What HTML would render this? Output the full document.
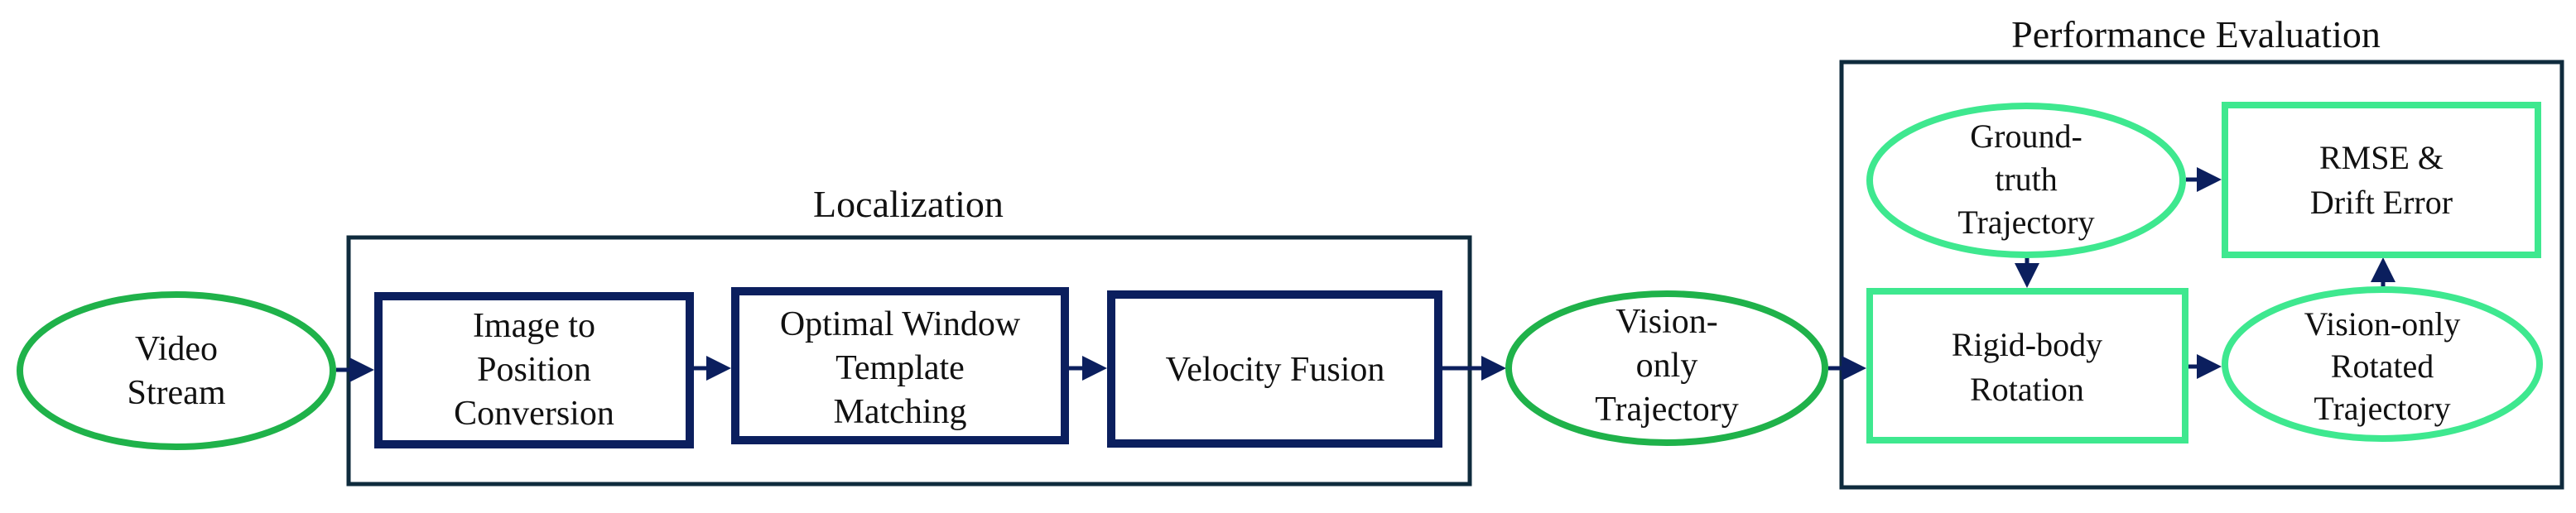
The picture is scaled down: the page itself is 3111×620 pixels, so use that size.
<!DOCTYPE html>
<html><head><meta charset="utf-8"><style>
html,body{margin:0;padding:0;background:#fff;}
svg text{font-family:"Liberation Serif","DejaVu Serif",serif;fill:#111;}
</style></head><body>
<svg width="3111" height="615" viewBox="0 0 3111 615" xmlns="http://www.w3.org/2000/svg" font-family="Liberation Serif, DejaVu Serif, serif">
<defs>
<marker id="ah" markerWidth="6" markerHeight="6" refX="5" refY="3" orient="auto" markerUnits="strokeWidth">
<path d="M0,0 L6,3 L0,6 z" fill="#0b1f5e"/></marker>
</defs>
<g font-family="Liberation Serif, DejaVu Serif, serif">
<text x="1097" y="262" font-size="46" text-anchor="middle">Localization</text>
<text x="2652" y="57" font-size="46" text-anchor="middle">Performance Evaluation</text>
</g>
<rect x="421" y="287" width="1354" height="298" fill="none" stroke="#0f2b3d" stroke-width="5"/>
<rect x="2224" y="75" width="870" height="514" fill="none" stroke="#0f2b3d" stroke-width="5"/>
<g stroke="#0b1f5e" stroke-width="5" fill="none" marker-end="url(#ah)">
<line x1="406" y1="447" x2="447" y2="447"/>
<line x1="838" y1="445" x2="878" y2="445"/>
<line x1="1291" y1="445" x2="1332" y2="445"/>
<line x1="1742" y1="445" x2="1814" y2="445"/>
<line x1="2208" y1="445" x2="2249" y2="445"/>
<line x1="2643" y1="443" x2="2678" y2="443"/>
<line x1="2640" y1="217" x2="2678" y2="217"/>
<line x1="2448" y1="311" x2="2448" y2="343"/>
<line x1="2878" y1="346" x2="2878" y2="316"/>
</g>
<ellipse cx="213" cy="448" rx="189" ry="92" fill="#fff" stroke="#1fb24a" stroke-width="8"/>
<g fill="#fff" stroke="#0b1f5e" stroke-width="10">
<rect x="457" y="358" width="376" height="179"/>
<rect x="888" y="352" width="398" height="180"/>
<rect x="1342" y="356" width="395" height="180"/>
</g>
<ellipse cx="2013" cy="445" rx="191" ry="90" fill="#fff" stroke="#1fb24a" stroke-width="8"/>
<g fill="#fff" stroke="#3ee88f" stroke-width="8">
<ellipse cx="2447" cy="218" rx="189" ry="90"/>
<rect x="2687" y="127" width="378" height="181"/>
<rect x="2258" y="352" width="381" height="180"/>
<ellipse cx="2877" cy="440" rx="190" ry="90"/>
</g>
<g font-family="Liberation Serif, DejaVu Serif, serif" font-size="42" text-anchor="middle">
<text x="213" y="435">Video</text>
<text x="213" y="488">Stream</text>
<text x="645" y="407">Image to</text>
<text x="645" y="460">Position</text>
<text x="645" y="513">Conversion</text>
<text x="1087" y="405">Optimal Window</text>
<text x="1087" y="458">Template</text>
<text x="1087" y="511">Matching</text>
<text x="1540" y="460">Velocity Fusion</text>
<text x="2013" y="402">Vision-</text>
<text x="2013" y="455">only</text>
<text x="2013" y="508">Trajectory</text>
</g>
<g font-family="Liberation Serif, DejaVu Serif, serif" font-size="40" text-anchor="middle">
<text x="2447" y="178">Ground-</text>
<text x="2447" y="230">truth</text>
<text x="2447" y="282">Trajectory</text>
<text x="2876" y="204">RMSE &amp;</text>
<text x="2876" y="258">Drift Error</text>
<text x="2448" y="430">Rigid-body</text>
<text x="2448" y="484">Rotation</text>
<text x="2877" y="405">Vision-only</text>
<text x="2877" y="456">Rotated</text>
<text x="2877" y="507">Trajectory</text>
</g>
</svg>
</body></html>
